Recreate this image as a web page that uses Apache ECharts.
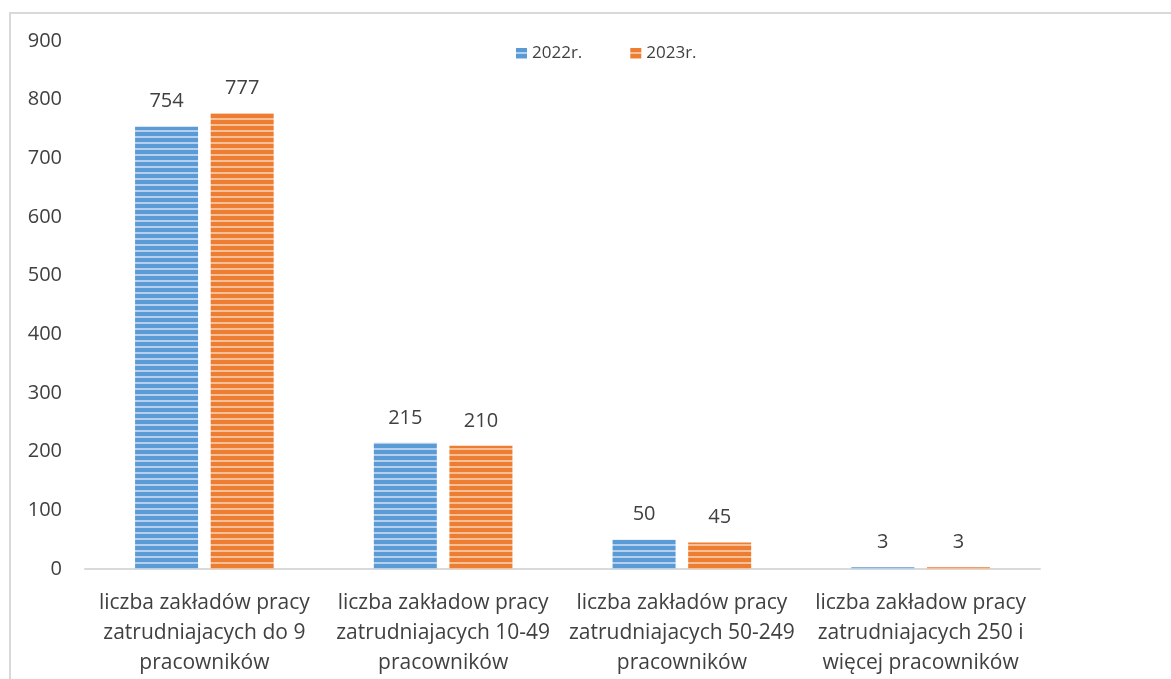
<!DOCTYPE html>
<html>
<head>
<meta charset="utf-8">
<script src="https://cdn.jsdelivr.net/npm/echarts@6/dist/echarts.min.js"></script>
<style>
html,body{margin:0;padding:0;background:#fff;}
#chart{width:1171px;height:679px;}
</style>
</head>
<body>
<div id="chart"></div>
<script>
const categories = [
  'liczba zakładów pracy\nzatrudniajacych do 9\npracowników',
  'liczba zakładow pracy\nzatrudniajacych 10-49\npracowników',
  'liczba zakładów pracy\nzatrudniajacych 50-249\npracowników',
  'liczba zakładow pracy\nzatrudniajacych 250 i\nwięcej pracowników'
];
const seriesNames = ['2022r.', '2023r.'];
const values2022 = [754, 215, 50, 3];
const values2023 = [777, 210, 45, 3];
const yTicks = { min: 0, max: 900, interval: 100 };

function stripe(base, light) {
  const c = document.createElement('canvas');
  c.width = 8; c.height = 6;
  const ctx = c.getContext('2d');
  ctx.fillStyle = base; ctx.fillRect(0, 0, 8, 6);
  ctx.fillStyle = light; ctx.fillRect(0, 4, 8, 2);
  return { image: c, repeat: 'repeat' };
}
const bluePat = stripe('#5b9bd5', '#b4d0ee');
const orangePat = stripe('#ed7d31', '#f6bf98');

const chart = echarts.init(document.getElementById('chart'));
const font = "'Open Sans', 'Noto Sans', sans-serif";
const lbl = { show: true, position: 'top', distance: 15, color: '#404040', fontSize: 20, fontFamily: font };
chart.setOption({
  animation: false,
  textStyle: { fontFamily: font },
  graphic: [{
    type: 'rect', shape: { x: 10, y: 13, width: 1200, height: 700 },
    style: { fill: 'none', stroke: '#d9d9d9', lineWidth: 2 }, silent: true
  }],
  legend: {
    top: 40, left: 511, itemWidth: 11, itemHeight: 11, itemGap: 48,
    icon: 'rect',
    textStyle: { color: '#404040', fontSize: 17, fontFamily: font },
    data: seriesNames
  },
  grid: { left: 85, right: 131, top: 41, bottom: 110 },
  xAxis: {
    type: 'category', data: categories,
    axisLine: { lineStyle: { color: '#d9d9d9', width: 2 } },
    axisTick: { show: false },
    axisLabel: { color: '#404040', fontSize: 21, lineHeight: 30, margin: 19, interval: 0, fontFamily: font }
  },
  yAxis: {
    type: 'value', min: yTicks.min, max: yTicks.max, interval: yTicks.interval,
    splitLine: { show: false }, axisLine: { show: false }, axisTick: { show: false },
    axisLabel: { color: '#404040', fontSize: 20, margin: 23, fontFamily: font }
  },
  series: [
    { name: seriesNames[0], type: 'bar', data: values2022, barWidth: 63, barGap: '20%',
      itemStyle: { color: bluePat }, label: lbl },
    { name: seriesNames[1], type: 'bar', data: values2023, barWidth: 63,
      itemStyle: { color: orangePat }, label: lbl }
  ]
});
</script>
</body>
</html>
